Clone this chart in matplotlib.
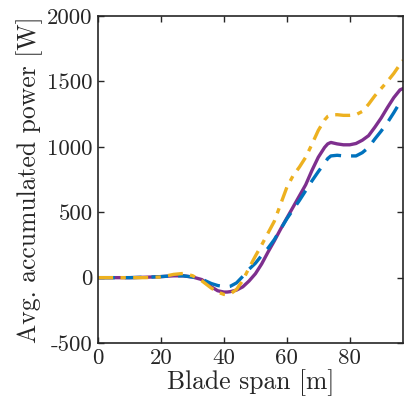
import numpy as np
import matplotlib.pyplot as plt

plt.rcParams['font.family'] = 'serif'
plt.rcParams['font.serif'] = ['cmr10']
plt.rcParams['mathtext.fontset'] = 'cm'
plt.rcParams['axes.unicode_minus'] = False
plt.rcParams['axes.formatter.use_mathtext'] = False

span = [0, 5, 10, 15, 20, 24, 27, 30, 33, 36, 38, 40, 41, 42, 44, 46, 48, 50,
        52, 54, 56, 58, 60, 62, 64, 66, 68, 70, 72, 73, 74, 76, 78, 80, 82, 84,
        86, 88, 90, 92, 94, 96, 97]

p_blue = [0, 0, 0, 3, 8, 14, 14, 5, -12, -45, -60, -68, -70, -66, -40, 10, 65, 110,
          170, 225, 290, 370, 450, 520, 590, 665, 740, 810, 875, 910, 930, 935, 930, 930, 930, 955,
          995, 1060, 1120, 1185, 1260, 1340, 1365]

p_purple = [0, 0, 0, 3, 8, 14, 14, 5, -15, -70, -100, -110, -110, -107, -95, -70, -25, 30,
            105, 195, 280, 370, 455, 540, 625, 710, 820, 920, 995, 1022, 1033, 1022, 1015, 1015, 1025, 1050,
            1085, 1150, 1220, 1300, 1375, 1435, 1445]

p_yellow = [0, 0, 0, 0, 5, 25, 32, 15, -25, -80, -110, -128, -130, -125, -90, -20, 75, 165,
            250, 340, 430, 560, 690, 780, 845, 920, 1020, 1125, 1205, 1232, 1243, 1245, 1240, 1240, 1245, 1270,
            1325, 1390, 1445, 1500, 1560, 1630, 1660]

fig = plt.figure(figsize=(4.04, 4.07), dpi=100)
ax = fig.add_axes([0.243, 0.157, 0.755, 0.804])

ax.plot(span, p_purple, '-', color='#7E2F8E', lw=2.4)
ax.plot(span, p_blue, color='#0072BD', lw=2.4, dashes=(5, 3))
ax.plot(span, p_yellow, color='#EDB120', lw=2.4, dashes=(4.5, 2.2, 1.6, 2.2))

ax.set_xlim(0, 97)
ax.set_ylim(-500, 2000)
ax.set_xticks([0, 20, 40, 60, 80])
ax.set_yticks([-500, 0, 500, 1000, 1500, 2000])
ax.set_yticklabels(['-500', '0', '500', '1000', '1500', '2000'])
ax.tick_params(direction='in', top=True, right=True, length=4, width=1,
               labelsize=16.5, color='#262626', labelcolor='#262626', pad=4)
for s in ax.spines.values():
    s.set_color('#262626')
    s.set_linewidth(1.2)

ax.set_xlabel('Blade span [m]', fontsize=18.5, color='#262626', labelpad=1)
ax.set_ylabel('Avg. accumulated power [W]', fontsize=18.5, color='#262626', labelpad=3)

fig.savefig('out.png', dpi=100)
